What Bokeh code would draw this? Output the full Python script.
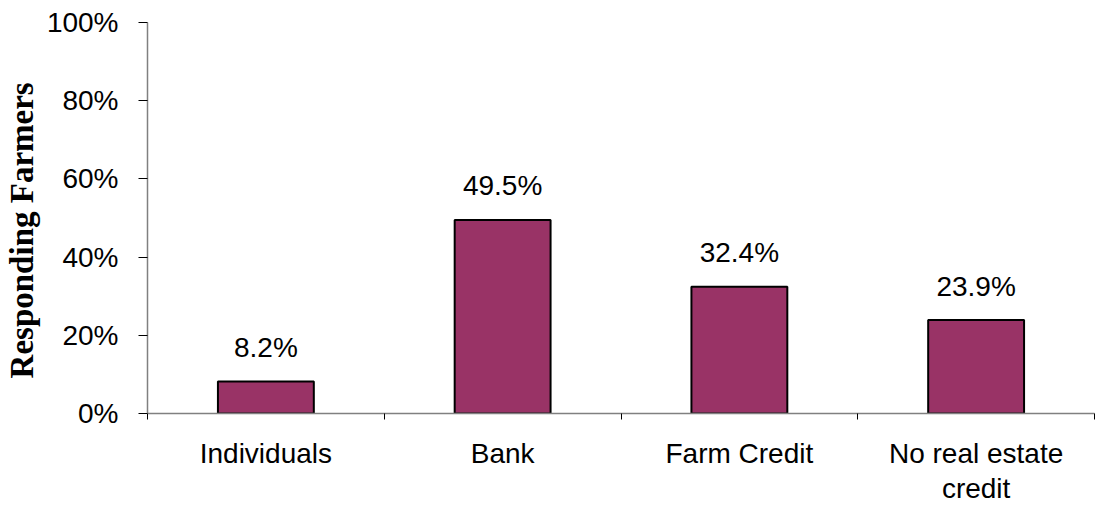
from bokeh.plotting import figure
from bokeh.models import FixedTicker, Range1d, ColumnDataSource
from bokeh.core.properties import value
from bokeh.embed import file_html
from bokeh.resources import INLINE

categories = ["Individuals", "Bank", "Farm Credit", "No real estate\ncredit"]
shares = [8.2, 49.5, 32.4, 23.9]
share_labels = ["8.2%", "49.5%", "32.4%", "23.9%"]
y_ticks = [0, 20, 40, 60, 80, 100]
y_tick_labels = ["0%", "20%", "40%", "60%", "80%", "100%"]
y_title = "Responding Farmers"

xc = [i + 0.5 for i in range(len(categories))]
src = ColumnDataSource(dict(x=xc, top=shares, lab=share_labels))

p = figure(width=1095, height=508, output_backend="svg", toolbar_location=None,
           x_range=Range1d(0, len(categories)), y_range=Range1d(0, 100),
           min_border_left=147, min_border_right=1, min_border_top=22, min_border_bottom=95)
p.outline_line_color = None
p.xgrid.visible = False
p.ygrid.visible = False
p.background_fill_color = "white"

p.vbar(x="x", top="top", width=0.405, bottom=0, source=src,
       fill_color="#993366", line_color="black", line_width=2)

p.text(x="x", y="top", text="lab", source=src, text_align="center",
       text_baseline="alphabetic", y_offset=-34,
       text_font=value("Liberation Sans"), text_font_size="28px", text_color="black")

# x axis
xa = p.xaxis[0]
xa.ticker = FixedTicker(ticks=xc, minor_ticks=list(range(len(categories) + 1)))
xa.major_label_overrides = {x: c for x, c in zip(xc, categories)}
xa.major_tick_out = 0
xa.major_tick_in = 0
xa.minor_tick_out = 6
xa.minor_tick_in = 0
xa.minor_tick_line_color = "black"
xa.axis_line_color = "#808080"
xa.axis_line_width = 1.5
xa.major_label_text_font = "Liberation Sans"
xa.major_label_text_font_size = "28px"
xa.major_label_text_color = "black"
xa.major_label_text_line_height = 1.15
xa.major_label_standoff = 18

# y axis
ya = p.yaxis[0]
ya.ticker = FixedTicker(ticks=y_ticks, minor_ticks=[])
ya.major_label_overrides = {t: l for t, l in zip(y_ticks, y_tick_labels)}
ya.major_tick_out = 9
ya.major_tick_in = 0
ya.major_tick_line_color = "black"
ya.axis_line_color = "#808080"
ya.axis_line_width = 1.5
ya.major_label_text_font = "Liberation Sans"
ya.major_label_text_font_size = "28px"
ya.major_label_text_color = "black"
ya.major_label_standoff = 20
# trailing no-break spaces nudge the centred title slightly downward
ya.axis_label = y_title + "\u00a0\u00a0\u00a0"
ya.axis_label_text_font = "Liberation Serif"
ya.axis_label_text_font_style = "bold"
ya.axis_label_text_font_size = "33px"
ya.axis_label_text_color = "black"
ya.axis_label_standoff = 4

open("out.html", "w").write(file_html(p, INLINE))
